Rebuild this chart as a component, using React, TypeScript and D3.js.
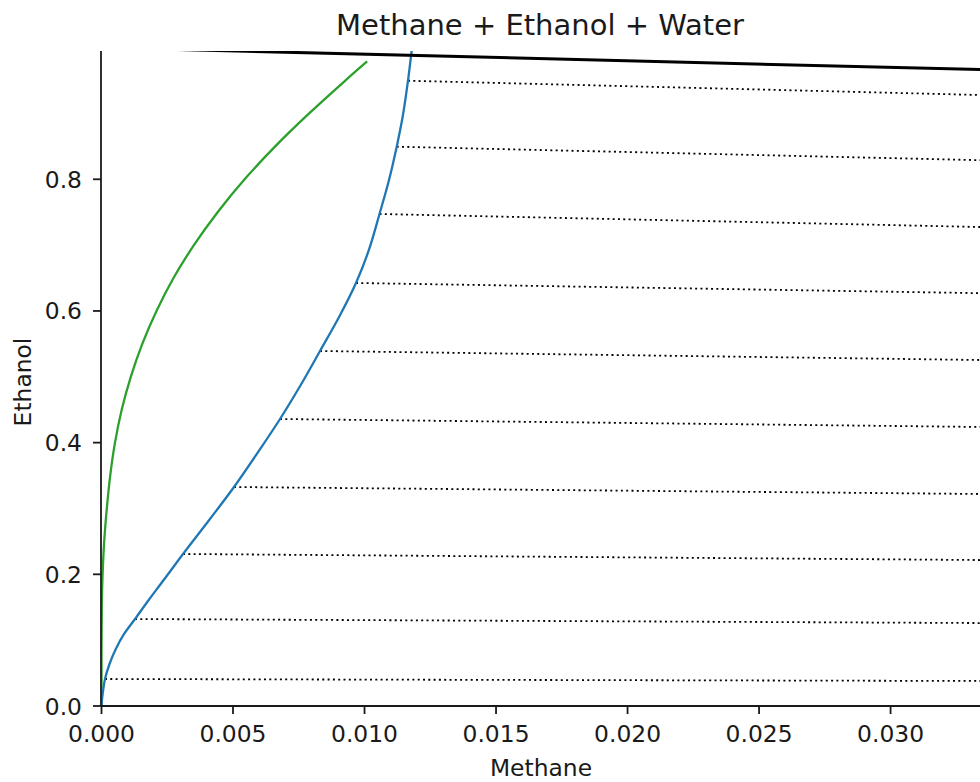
import React from "react";
import * as d3 from "d3";

// Liquid-phase boundary (x = methane, y = ethanol mole fraction)
const liquidBoundary: [number, number][] = [
  [0, 0], [0.00003, 0.0137], [0.000133, 0.041], [0.000304, 0.0638], [0.000544, 0.0866],
  [0.000859, 0.1094], [0.001274, 0.1321], [0.001795, 0.161], [0.002251, 0.1853],
  [0.002677, 0.2081], [0.003099, 0.2309], [0.004095, 0.2825], [0.005038, 0.3326],
  [0.005931, 0.3843], [0.006787, 0.4359], [0.007574, 0.4875], [0.008307, 0.5392],
  [0.009052, 0.5924], [0.009676, 0.6425], [0.010166, 0.6926], [0.01057, 0.7473],
  [0.010931, 0.7989], [0.011223, 0.8495], [0.011463, 0.898], [0.011653, 0.9497],
  [0.011786, 0.9933], [0.011813, 1.0024],
];

// Second boundary curve
const innerBoundary: [number, number][] = [
  [0, 0], [0, 0.05], [0.0000019, 0.1], [0.0000114, 0.15], [0.0000418, 0.2],
  [0.0001027, 0.25], [0.000202, 0.3], [0.000331, 0.35], [0.000513, 0.4],
  [0.000768, 0.45], [0.001114, 0.5], [0.001551, 0.55], [0.002091, 0.6],
  [0.002737, 0.65], [0.003513, 0.7], [0.004414, 0.75], [0.005441, 0.8],
  [0.006604, 0.85], [0.007893, 0.9], [0.009269, 0.95], [0.010098, 0.979],
];

// Triangle edge where methane + ethanol = 1
const edgeLine: [number, number][] = [[0, 1], [0.04, 0.96]];

// Tie lines: liquid end and the point where they leave the plotted range
const tieLiquidX = [0.000133, 0.001274, 0.003099, 0.005038, 0.006787, 0.008307, 0.009676, 0.01057, 0.011223, 0.011653];
const tieLiquidY = [0.041, 0.1321, 0.2309, 0.3326, 0.4359, 0.5392, 0.6425, 0.7473, 0.8495, 0.9497];
const tieFarX = 0.0334;
const tieFarY = [0.038, 0.126, 0.2217, 0.322, 0.4238, 0.5255, 0.627, 0.7275, 0.829, 0.928];

const xTicks = [0, 0.005, 0.01, 0.015, 0.02, 0.025, 0.03];
const yTicks = [0, 0.2, 0.4, 0.6, 0.8];

const W = 980;
const H = 782;
const left = 101.5;
const right = 980;
const top = 51;
const bottom = 706;

export default function App() {
  const x = d3.scaleLinear().domain([0, 0.0334]).range([left, right]);
  const y = d3.scaleLinear().domain([0, 0.99484]).range([bottom, top]);

  const line = d3
    .line<[number, number]>()
    .x((d) => x(d[0]))
    .y((d) => y(d[1]))
    .curve(d3.curveCatmullRom.alpha(0.5));
  const straight = d3
    .line<[number, number]>()
    .x((d) => x(d[0]))
    .y((d) => y(d[1]));

  const font = "'DejaVu Sans', sans-serif";
  const textColor = "#1a1a1a";

  return (
    <svg
      width={W}
      height={H}
      style={{ position: "absolute", left: 0, top: 0, background: "#fff" }}
      fontFamily={font}
    >
      <defs>
        <clipPath id="plotArea">
          <rect x={left} y={top} width={right - left} height={bottom - top} />
        </clipPath>
      </defs>
      <rect x={0} y={0} width={W} height={H} fill="#fff" />

      <g clipPath="url(#plotArea)">
        {tieLiquidX.map((lx, i) => (
          <path
            key={i}
            d={straight([[lx, tieLiquidY[i]], [tieFarX, tieFarY[i]]]) || ""}
            fill="none"
            stroke="#000"
            strokeWidth={1.8}
            strokeDasharray="2 3.3"
          />
        ))}
        <path d={line(innerBoundary) || ""} fill="none" stroke="#2ca02c" strokeWidth={2.3} />
        <path d={line(liquidBoundary) || ""} fill="none" stroke="#1f77b4" strokeWidth={2.3} />
        <path d={straight(edgeLine) || ""} fill="none" stroke="#000" strokeWidth={3} />
      </g>

      {/* axes */}
      <line x1={left - 0.5} x2={right} y1={bottom} y2={bottom} stroke={textColor} strokeWidth={1.8} />
      <line x1={left - 0.5} x2={left - 0.5} y1={top} y2={bottom} stroke={textColor} strokeWidth={1.8} />

      {xTicks.map((t) => (
        <g key={"x" + t}>
          <line x1={x(t)} x2={x(t)} y1={bottom} y2={bottom + 8} stroke={textColor} strokeWidth={1.8} />
          <text x={x(t)} y={bottom + 35.5} textAnchor="middle" fontSize={23.4} fill={textColor}>
            {d3.format(".3f")(t)}
          </text>
        </g>
      ))}
      {yTicks.map((t) => (
        <g key={"y" + t}>
          <line x1={left - 8.5} x2={left - 0.5} y1={y(t)} y2={y(t)} stroke={textColor} strokeWidth={1.8} />
          <text x={82} y={y(t) + 8.5} textAnchor="end" fontSize={23.4} fill={textColor}>
            {d3.format(".1f")(t)}
          </text>
        </g>
      ))}

      <text x={541} y={776} textAnchor="middle" fontSize={23.4} fill={textColor}>
        Methane
      </text>
      <text
        transform={`translate(31, 382) rotate(-90)`}
        textAnchor="middle"
        fontSize={23.4}
        fill={textColor}
      >
        Ethanol
      </text>
      <text x={540} y={35} textAnchor="middle" fontSize={29} fill={textColor}>
        Methane + Ethanol + Water
      </text>
    </svg>
  );
}
